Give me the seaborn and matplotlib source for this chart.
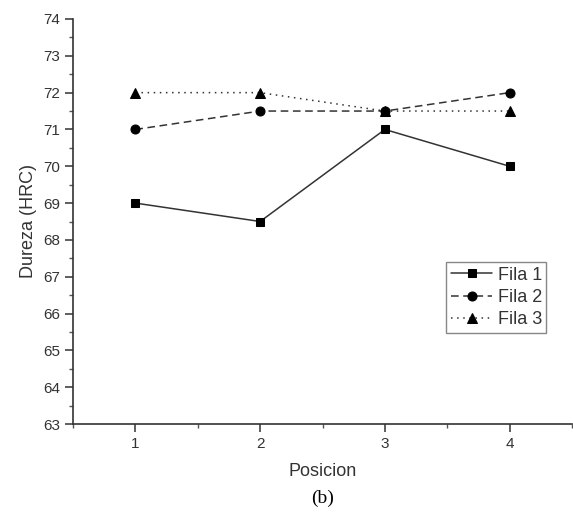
import matplotlib
matplotlib.use("Agg")
import matplotlib.pyplot as plt
import seaborn as sns
import pandas as pd
from matplotlib.ticker import MultipleLocator

posicion = [1, 2, 3, 4]
fila1 = [69.0, 68.5, 71.0, 70.0]
fila2 = [71.0, 71.5, 71.5, 72.0]
fila3 = [72.0, 72.0, 71.5, 71.5]
series_names = ["Fila 1", "Fila 2", "Fila 3"]
yticks = list(range(63, 75))
xticks = [1, 2, 3, 4]

sns.set_theme(style="ticks")
plt.rcParams['font.family'] = ['Liberation Sans', 'DejaVu Sans']

df = pd.DataFrame({
    "Posicion": posicion * 3,
    "Dureza": fila1 + fila2 + fila3,
    "Fila": sum([[n] * len(posicion) for n in series_names], []),
})

fig = plt.figure(figsize=(5.73, 5.18), dpi=100)
ax = fig.add_axes([73/573, 1-424/518, 499/573, 405/518])

styles = {
    "Fila 1": dict(ls="-", marker="s", ms=6),
    "Fila 2": dict(ls=(0, (5, 3)), marker="o", ms=6.5),
    "Fila 3": dict(ls=(0, (1, 3)), marker="^", ms=7),
}
for name in series_names:
    st = styles[name]
    sns.lineplot(data=df[df["Fila"] == name], x="Posicion", y="Dureza", ax=ax,
                 color="#333333", linewidth=1.1, linestyle=st["ls"],
                 marker=st["marker"], markersize=st["ms"],
                 markerfacecolor="black", markeredgecolor="black",
                 label=name)

ax.set_xlim(0.5, 4.5)
ax.set_ylim(63, 74)
ax.set_xticks(xticks)
ax.set_yticks(yticks)
ax.xaxis.set_minor_locator(MultipleLocator(0.5))
ax.yaxis.set_minor_locator(MultipleLocator(0.5))
for s in ["top", "right"]:
    ax.spines[s].set_visible(False)
for s in ["left", "bottom"]:
    ax.spines[s].set_linewidth(1.2)
    ax.spines[s].set_color("#333333")
ax.tick_params(axis="both", which="major", direction="out", length=6, width=1.1,
               color="#333333", labelcolor="#333333", labelsize=11, pad=3)
ax.tick_params(axis="both", which="minor", direction="out", length=3, width=1.0,
               color="#555555")
ax.set_xlabel("Posicion", fontsize=13, color="#333333", labelpad=9)
ax.set_ylabel("Dureza (HRC)", fontsize=13, color="#333333", labelpad=5)

leg = ax.legend(loc="upper left", bbox_to_anchor=(0.748, 0.4), borderaxespad=0,
                fancybox=False, frameon=True, edgecolor="#888888", framealpha=1,
                fontsize=13, handlelength=2.3, handletextpad=0.3,
                borderpad=0.25, labelspacing=0.3)
leg.get_frame().set_linewidth(1.0)
for t in leg.get_texts():
    t.set_color("#333333")

fig.text(323/573, 1-498/518, "(b)", ha="center", va="center",
         family=["Liberation Serif", "DejaVu Serif"], fontsize=14, color="black")

fig.savefig("out.png", dpi=100)
